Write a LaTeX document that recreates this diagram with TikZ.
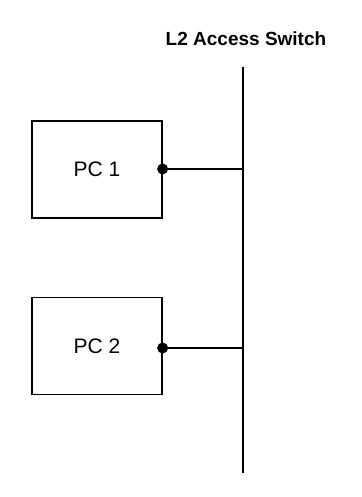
\documentclass[tikz,border=0pt]{standalone}
\usepackage{fontspec}
\setmainfont{Liberation Sans}
\usetikzlibrary{positioning}

\begin{document}
\begin{tikzpicture}[
  x=1bp,y=-1bp,
  pcbox/.style={draw,line width=1.3bp,minimum width=130bp,minimum height=97bp,inner sep=0pt,font=\fontsize{21bp}{24bp}\selectfont},
  link/.style={line width=1.3bp},
  every node/.style={font=\small}
]
  \useasboundingbox (0,0) rectangle (361,497);
  \node[font=\bfseries\fontsize{19bp}{22bp}\selectfont,anchor=base] (title) at (246,46) {L2 Access Switch};
  \coordinate (swtop) at (243,67);
  \coordinate (swbot) at (243,473);
  \draw[line width=2.6bp] (swtop) -- (swbot);
  \node[pcbox] (pc1) at (97,169.5) {PC 1};
  \node[pcbox,below=78bp of pc1] (pc2) {PC 2};
  \coordinate (tap1) at (243,169);
  \coordinate (tap2) at (243,348);
  \draw[link] (pc1.east |- tap1) -- (tap1);
  \draw[link] (pc2.east |- tap2) -- (tap2);
  \fill (pc1.east |- tap1) circle (5.5bp);
  \fill (pc2.east |- tap2) circle (5.5bp);
\end{tikzpicture}
\end{document}
